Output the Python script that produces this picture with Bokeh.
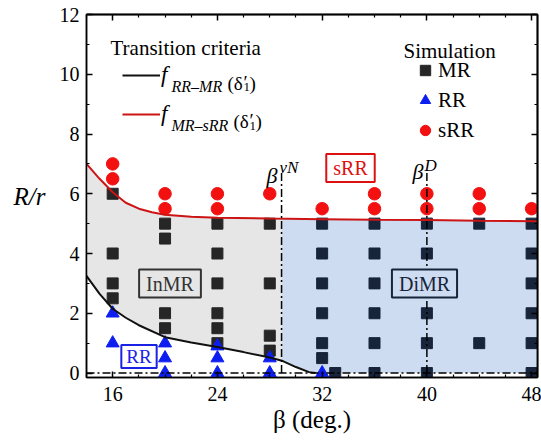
import numpy as np
from bokeh.plotting import figure
from bokeh.models import Range1d, LinearAxis, FixedTicker, Label, Legend, LegendItem
from bokeh.embed import file_html
from bokeh.resources import INLINE

# ---------------- data ----------------
mr_beta = [16, 16, 16, 16,
           20, 20, 20, 20,
           24, 24, 24, 24, 24, 24,
           28, 28, 28, 28,
           32, 32, 32, 32, 32, 32, 33,
           36, 36, 36, 36, 36, 36,
           40, 40, 40, 40, 40, 40,
           44, 44,
           48, 48, 48, 48, 48, 48]
mr_ratio = [6, 4, 3, 2.5,
            5, 4.5, 2, 1.5,
            5, 4, 3, 2, 1.5, 1,
            5, 3, 1.25, 0.75,
            5, 4, 3, 2, 1, 0.5, 0,
            5, 4, 3, 2, 1, 0,
            5, 4, 3, 2, 1, 0,
            5, 1,
            5, 4, 3, 2, 1, 0]
rr_beta = [16, 16, 20, 20, 20, 24, 24, 24, 28, 28, 32]
rr_ratio = [2, 1, 1, 0.5, 0, 0.9, 0.5, 0, 0.5, 0, 0]
srr_beta = [16, 16, 20, 20, 24, 24, 28, 32, 36, 36, 40, 40, 44, 44, 48]
srr_ratio = [7, 6.5, 6, 5.5, 6, 5.5, 6, 5.5, 6, 5.5, 6, 5.5, 6, 5.5, 5.5]

rrmr_beta = [14, 15, 16, 17, 18, 20, 22, 24, 26, 28, 29, 30, 31, 31.5]
rrmr_ratio = [3.25, 2.65, 2.15, 1.85, 1.6, 1.2, 1.02, 0.87, 0.7, 0.52, 0.4, 0.2, 0.03, 0.0]
mrsrr_beta = [14, 15, 16, 17, 18, 19, 20, 22, 24, 28, 32, 36, 40, 44, 48.5]
mrsrr_ratio = [7.0, 6.5, 6.05, 5.7, 5.5, 5.38, 5.3, 5.23, 5.2, 5.17, 5.15, 5.13, 5.12, 5.1, 5.08]

beta_vN = 28.9
beta_D = 40.0

x_ticks = [16, 24, 32, 40, 48]
x_minor = [14, 18, 20, 22, 26, 28, 30, 34, 36, 38, 42, 44, 46]
y_ticks = [0, 2, 4, 6, 8, 10, 12]
y_minor = [1, 3, 5, 7, 9, 11]

# ---------------- layout helpers ----------------
X0, X1 = 14.0, 48.45
Y0, Y1 = -0.15, 12.0
FL, FT, FW, FH = 86, 14, 451, 363
W, H = 541, 440


def dx(px):
    return X0 + (px - FL) / FW * (X1 - X0)


def dy(py):
    return Y1 - (py - FT) / FH * (Y1 - Y0)


SERIF = "Liberation Serif"

p = figure(width=W, height=H, x_range=Range1d(X0, X1), y_range=Range1d(Y0, Y1),
           output_backend="svg", toolbar_location=None,
           min_border_left=FL, min_border_right=W - FL - FW,
           min_border_top=FT, min_border_bottom=H - FT - FH)
p.xgrid.visible = False
p.ygrid.visible = False
p.outline_line_color = "black"
p.outline_line_width = 1.5
p.background_fill_color = "white"
p.border_fill_color = "white"


def style_axis(ax, ticks, minor, standoff):
    ax.ticker = FixedTicker(ticks=ticks, minor_ticks=minor)
    ax.axis_line_color = "black"
    ax.axis_line_width = 1.5
    ax.major_tick_in = 6
    ax.major_tick_out = 0
    ax.minor_tick_in = 3
    ax.minor_tick_out = 0
    ax.major_tick_line_width = 1.5
    ax.minor_tick_line_width = 1.2
    ax.major_tick_line_color = "black"
    ax.minor_tick_line_color = "black"
    ax.major_label_text_font = SERIF
    ax.major_label_text_color = "black"
    ax.major_label_text_font_size = "20px"
    ax.major_label_standoff = standoff
    ax.axis_label_text_font = SERIF
    ax.axis_label_text_font_size = "25px"
    ax.axis_label_text_color = "black"


xa = p.xaxis[0]
style_axis(xa, x_ticks, x_minor, 9)
xa.axis_label = "\u03b2 (deg.)"
xa.axis_label_text_font_style = "normal"
xa.axis_label_standoff = 2

ya = p.yaxis[0]
style_axis(ya, y_ticks, y_minor, 7)
ya.axis_label = "R/r"
ya.axis_label_text_font_style = "italic"
ya.axis_label_orientation = "horizontal"
ya.axis_label_standoff = 11


def frame_ticks(side, positions, length):
    ax = LinearAxis(ticker=FixedTicker(ticks=[], minor_ticks=positions))
    ax.axis_line_color = "black"
    ax.axis_line_width = 1.5
    ax.major_tick_in = 0
    ax.major_tick_out = 0
    ax.minor_tick_in = length
    ax.minor_tick_out = 0
    ax.minor_tick_line_width = 1.5 if length > 4 else 1.2
    ax.minor_tick_line_color = "black"
    ax.major_label_standoff = 0
    p.add_layout(ax, side)


frame_ticks("above", x_ticks, 6)
frame_ticks("above", x_minor, 3)
frame_ticks("right", y_ticks, 6)
frame_ticks("right", y_minor, 3)

# ---------------- shaded regions ----------------
red_vn = float(np.interp(beta_vN, mrsrr_beta, mrsrr_ratio))
blk_vn = float(np.interp(beta_vN, rrmr_beta, rrmr_ratio))

gx = [b for b in mrsrr_beta if b < beta_vN] + [beta_vN, beta_vN]
gy = [r for b, r in zip(mrsrr_beta, mrsrr_ratio) if b < beta_vN] + [red_vn, blk_vn]
for b, r in reversed(list(zip(rrmr_beta, rrmr_ratio))):
    if b < beta_vN:
        gx.append(b)
        gy.append(r)
GRAY = "#e6e6e6"
BLUE = "#cddcf0"
p.patch(gx, gy, fill_color=GRAY, line_color=None)

bx = [beta_vN] + [b for b in mrsrr_beta if b > beta_vN]
by = [red_vn] + [r for b, r in zip(mrsrr_beta, mrsrr_ratio) if b > beta_vN]
bx.append(mrsrr_beta[-1])
by.append(0.0)
for b, r in reversed(list(zip(rrmr_beta, rrmr_ratio))):
    if b > beta_vN:
        bx.append(b)
        by.append(r)
bx.append(beta_vN)
by.append(blk_vn)
p.patch(bx, by, fill_color=BLUE, line_color=None)

# ---------------- markers ----------------
mr_l = [(b, r) for b, r in zip(mr_beta, mr_ratio) if b < beta_vN]
mr_r = [(b, r) for b, r in zip(mr_beta, mr_ratio) if b > beta_vN]
r_sq = p.scatter([b for b, _ in mr_l], [r for _, r in mr_l], marker="square", size=11,
                 fill_color="#262626", line_color="#262626")
p.scatter([b for b, _ in mr_r], [r for _, r in mr_r], marker="square", size=11,
          fill_color="#17243a", line_color="#17243a")
r_tri = p.scatter(rr_beta, rr_ratio, marker="triangle", size=13,
                  fill_color="#0d1ef0", line_color="#0d1ef0")
r_cir = p.scatter(srr_beta, srr_ratio, marker="circle", size=12.5,
                  fill_color="#f21010", line_color="#f21010")

# ---------------- curves & guide lines ----------------
r_blk = p.line(rrmr_beta, rrmr_ratio, line_color="#111111", line_width=2)
r_red = p.line(mrsrr_beta, mrsrr_ratio, line_color="#cc1414", line_width=2)

DASH = "8 3 2 3"
p.line([X0, X1], [0, 0], line_color="black", line_width=1.5, line_dash=DASH)
GUIDE_TOP = 6.7
p.line([beta_vN, beta_vN], [0, GUIDE_TOP], line_color="black", line_width=1.5, line_dash=DASH)
p.line([beta_D, beta_D], [0, GUIDE_TOP], line_color="black", line_width=1.5, line_dash=DASH)

# ---------------- legends ----------------
leg1 = Legend(items=[LegendItem(label="f", renderers=[r_blk]),
                     LegendItem(label="f", renderers=[r_red])],
              location=(36, 250), orientation="vertical",
              padding=0, margin=0, spacing=13, glyph_height=20, glyph_width=38,
              label_standoff=1, label_height=20,
              label_text_font=SERIF, label_text_font_size="23px", label_text_font_style="italic",
              label_text_color="black",
              border_line_alpha=0, background_fill_alpha=0)
p.add_layout(leg1)

leg2 = Legend(items=[LegendItem(label="MR", renderers=[r_sq]),
                     LegendItem(label="RR", renderers=[r_tri]),
                     LegendItem(label="sRR", renderers=[r_cir])],
              location=(326, 232), orientation="vertical",
              padding=0, margin=0, spacing=0, glyph_height=30, glyph_width=26,
              label_standoff=0, label_height=20,
              label_text_font=SERIF, label_text_font_size="21px", label_text_color="black",
              border_line_alpha=0, background_fill_alpha=0)
p.add_layout(leg2)


def lab(px, py, text, size, style="normal", color="black", align="left", baseline="alphabetic", **kw):
    p.add_layout(Label(x=dx(px), y=dy(py), text=text, text_font=SERIF, text_font_size=f"{size}px",
                       text_font_style=style, text_color=color, text_align=align,
                       text_baseline=baseline, **kw))


lab(110, 47, "Transition criteria", 21)
lab(403, 50, "Simulation", 21)

# legend formula labels (the italic f comes from the legend itself)
for L, sub, paren_x in [(75.7, "RR\u2013MR", 227), (114.3, "MR\u2013sRR", 233)]:
    lab(171, L + 10.5, sub, 16, style="italic")
    lab(paren_x, L + 7, "(\u03b4", 19)
    lab(paren_x + 16, L + 6, "\u2032", 19)
    lab(paren_x + 16, L + 11, "1", 13)
    lab(paren_x + 22, L + 7, ")", 19)

# guide line labels
lab(266, 175, "\u03b2", 22, style="italic")
lab(279, 167, "vN", 17, style="italic")
lab(412, 171, "\u03b2", 22, style="italic")
lab(424, 165, "D", 17, style="italic")

# regime boxes
box_pad = dict(left=7, right=7, top=3, bottom=3)
lab(350, 167.5, "sRR", 20, color="#dd1111", align="center", baseline="middle",
    border_line_color="#dd1111", border_line_width=2, background_fill_color="white", padding=box_pad)
lab(169.5, 283, "InMR", 20, color="#333333", align="center", baseline="middle",
    border_line_color="#333333", border_line_width=2, background_fill_color=GRAY, padding=box_pad)
lab(424, 283, "DiMR", 20, color="#17243a", align="center", baseline="middle",
    border_line_color="#17243a", border_line_width=2, background_fill_color=BLUE, padding=box_pad)
lab(138.5, 356, "RR", 19, color="#1a22e6", align="center", baseline="middle",
    border_line_color="#1a22e6", border_line_width=2, background_fill_color="white",
    padding=dict(left=5, right=5, top=1, bottom=1))

open("out.html", "w").write(file_html(p, INLINE))
